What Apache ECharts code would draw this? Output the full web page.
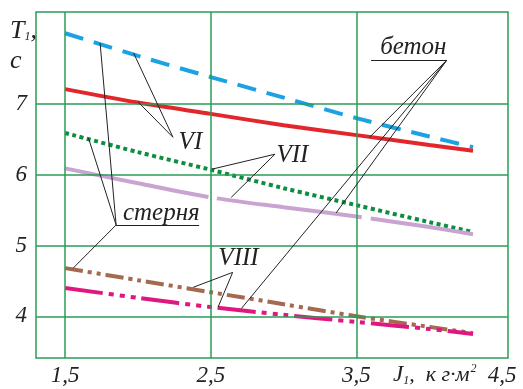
<!DOCTYPE html>
<html>
<head>
<meta charset="utf-8">
<script src="https://cdn.jsdelivr.net/npm/echarts@6/dist/echarts.min.js"></script>
<style>
  html, body { margin: 0; background: #fff; }
  #chart { width: 523px; height: 389px; }
</style>
</head>
<body>
<div id="chart"></div>
<script>
// J1, kg·m^2
const xs = [1.5, 2.0, 2.5, 3.0, 3.5, 4.0, 4.3]
// T1, s
const vi_sternya = [8.0, 7.68, 7.38, 7.09, 6.80, 6.54, 6.39]
const vi_beton = [7.21, 7.02, 6.86, 6.70, 6.56, 6.42, 6.34]
const vii_sternya = [6.59, 6.32, 6.07, 5.81, 5.57, 5.33, 5.19]
const vii_beton = [6.09, 5.88, 5.68, 5.54, 5.41, 5.26, 5.16]
const viii_sternya = [4.68, 4.51, 4.34, 4.17, 4.0, 3.85, 3.76]
const viii_beton = [4.40, 4.26, 4.13, 4.02, 3.92, 3.82, 3.75]

const xTicks = [1.5, 2.5, 3.5, 4.5]
const yTicks = [4, 5, 6, 7]

// annotation leaders, in data units: [x1, y1, x2, y2]
const leaders = [
  [2.24, 6.53, 1.97, 7.72], [2.24, 6.53, 2.0, 7.03],            // VI
  [1.85, 5.29, 1.74, 7.86], [1.85, 5.29, 1.66, 6.52],
  [1.85, 5.29, 1.555, 4.68], [1.85, 5.29, 2.42, 5.29],          // стерня
  [2.94, 6.29, 2.51, 6.08], [2.94, 6.29, 2.64, 5.68],           // VII
  [4.12, 7.62, 3.60, 7.62], [4.12, 7.62, 3.59, 6.53],
  [4.12, 7.62, 3.36, 5.46], [4.12, 7.62, 2.71, 4.11],           // бетон
  [2.65, 4.62, 2.38, 4.41], [2.65, 4.62, 2.55, 4.13]            // VIII
]
const notes = [
  ['VI', 2.36, 6.45], ['VII', 3.06, 6.28], ['VIII', 2.69, 4.82],
  ['стерня', 2.16, 5.45], ['бетон', 3.89, 7.80]
]

const GRID = '#2a9d55'
const FONT = '"Liberation Serif", "DejaVu Serif", serif'

const pairs = (ys) => xs.map((x, i) => [x, ys[i]])

function curve(ys, color, dash) {
  return {
    type: 'line',
    data: pairs(ys),
    smooth: 0.3,
    symbol: 'none',
    silent: true,
    z: 3,
    lineStyle: { color: color, width: 4, type: dash, cap: 'butt' }
  }
}

const chart = echarts.init(document.getElementById('chart'))

chart.setOption({
  animation: false,
  grid: {
    left: 36, top: 12, right: 15, bottom: 31,
    show: true, borderColor: GRID, borderWidth: 1.5
  },
  xAxis: {
    type: 'value', min: 1.3, max: 4.54,
    axisLine: { show: false }, axisTick: { show: false }, splitLine: { show: false },
    axisLabel: {
      customValues: xTicks, margin: 6,
      formatter: (v) => String(v).replace('.', ','),
      fontFamily: FONT, fontStyle: 'italic', fontSize: 23, color: '#222'
    }
  },
  yAxis: {
    type: 'value', min: 3.41, max: 8.3,
    axisLine: { show: false }, axisTick: { show: false }, splitLine: { show: false },
    axisLabel: {
      customValues: yTicks, margin: 9,
      fontFamily: FONT, fontStyle: 'italic', fontSize: 23, color: '#222'
    }
  },
  graphic: [
    {
      type: 'text', left: 10, top: 18, silent: true,
      style: {
        text: '{a|T}{s|1}{a|,}\n{a|с}',
        rich: {
          a: { fontFamily: FONT, fontStyle: 'italic', fontSize: 26, fill: '#222', lineHeight: 30 },
          s: { fontFamily: FONT, fontStyle: 'italic', fontSize: 12, fill: '#222', padding: [12, 0, 0, 0] }
        }
      }
    },
    {
      type: 'text', left: 393, top: 363, silent: true,
      style: {
        text: '{a|J}{s|1}{b|,  к г·м}{p|2}',
        rich: {
          a: { fontFamily: FONT, fontStyle: 'italic', fontSize: 23, fill: '#222' },
          b: { fontFamily: FONT, fontStyle: 'italic', fontSize: 22, fill: '#222' },
          s: { fontFamily: FONT, fontStyle: 'italic', fontSize: 12, fill: '#222', padding: [12, 0, 0, 0] },
          p: { fontFamily: FONT, fontStyle: 'italic', fontSize: 12, fill: '#222', padding: [0, 0, 12, 1] }
        }
      }
    }
  ],
  series: [
    {
      type: 'line', data: [], silent: true, z: 1,
      markLine: {
        silent: true, symbol: 'none', animation: false,
        label: { show: false },
        lineStyle: { color: GRID, width: 1.5, type: 'solid' },
        data: [
          ...xTicks.slice(0, 3).map((v) => ({ xAxis: v })),
          ...yTicks.map((v) => ({ yAxis: v }))
        ]
      }
    },
    curve(vi_sternya, '#1ba2e2', [19, 11]),
    curve(vi_beton, '#e2262b', 'solid'),
    curve(vii_sternya, '#0c8e40', [4, 3.5]),
    curve(vii_beton, '#c9a4d3', [146, 9]),
    curve(viii_sternya, '#a4694f', [18, 5, 4, 5, 4, 5]),
    curve(viii_beton, '#e0177f', [38, 6, 5, 6, 5, 6, 5, 6]),
    {
      type: 'line', data: [], silent: true, z: 5,
      markLine: {
        silent: true, symbol: 'none', animation: false,
        label: { show: false },
        lineStyle: { color: '#222', width: 1, type: 'solid' },
        data: leaders.map((l) => [{ coord: [l[0], l[1]] }, { coord: [l[2], l[3]] }])
      },
      markPoint: {
        silent: true, symbol: 'circle', symbolSize: 0, animation: false,
        label: {
          show: true, position: 'inside',
          fontFamily: FONT, fontStyle: 'italic', fontSize: 25, color: '#222'
        },
        data: notes.map((n) => ({ coord: [n[1], n[2]], label: { formatter: n[0] } }))
      }
    }
  ]
})
</script>
</body>
</html>
